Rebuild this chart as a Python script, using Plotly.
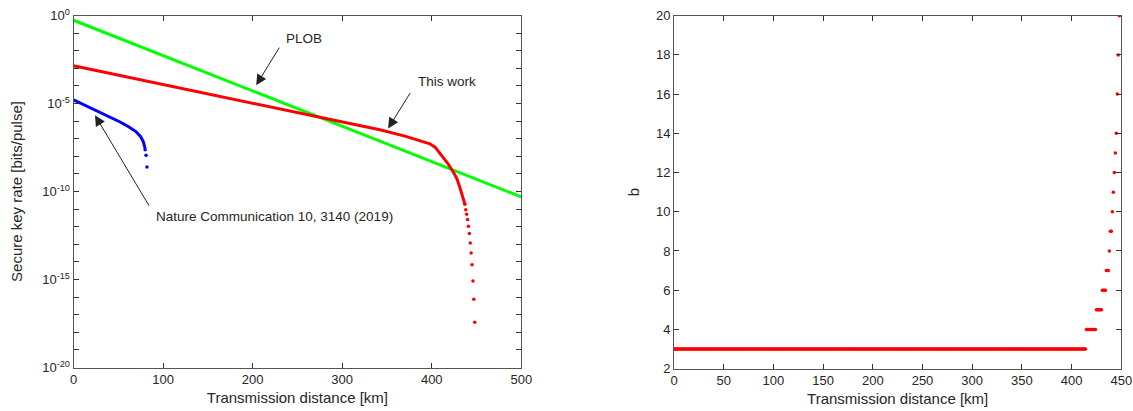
import plotly.graph_objects as go

# ---------------- data ----------------
# Left panel: secure key rate vs distance
plob_km = [0, 100, 200, 300, 400, 500]
plob_rate = [5.4e-1, 5.2e-3, 5.1e-5, 5.1e-7, 5.0e-9, 4.9e-11]

this_line_km = [0, 100, 200, 260, 300, 342, 370, 398, 404, 411, 418, 424, 428, 431, 434, 436, 437]
this_line_rate = [1.38e-3, 1.2e-4, 1.05e-5, 2.45e-6, 9.1e-7, 3.2e-7, 1.4e-7, 5.1e-8, 3.2e-8,
                  1.15e-8, 3.9e-9, 1.29e-9, 5.5e-10, 2.0e-10, 7.1e-11, 3.2e-11, 1.9e-11]

this_dot_km = [437, 438, 439, 440, 441, 442, 443, 444, 445, 446, 447, 448]
this_dot_rate = [1.9e-11, 9.3e-12, 5.1e-12, 2.6e-12, 1.07e-12, 4.1e-13, 1.2e-13,
                 3.2e-14, 6.8e-15, 8.3e-16, 7.6e-17, 3.7e-18]

nc_line_km = [0, 15, 33, 52, 62, 70, 75, 78, 80]
nc_line_rate = [1.62e-5, 7.0e-6, 2.7e-6, 8.9e-7, 4.6e-7, 2.45e-7, 1.3e-7, 6.6e-8, 2.75e-8]
nc_dot_km = [80, 81, 82]
nc_dot_rate = [2.34e-8, 1.15e-8, 2.5e-9]

# Right panel: b vs distance (runs of constant b on a 1 km grid)
b_levels = [3, 4, 5, 6, 7, 8, 9, 10, 11, 12, 13, 14, 16, 18, 20]
b_first_km = [0, 415, 425, 431, 435, 438, 439, 441, 442, 443, 444, 445, 446, 447, 448]
b_last_km = [414, 424, 430, 434, 437, 438, 440, 441, 442, 443, 444, 445, 446, 447, 448]

left_xticks = [0, 100, 200, 300, 400, 500]
left_yexp = list(range(-20, 1))
right_xticks = [0, 50, 100, 150, 200, 250, 300, 350, 400, 450]
right_yticks = [2, 4, 6, 8, 10, 12, 14, 16, 18, 20]

# expand b runs into per-km points
b_km, b_val = [], []
for lv, a, z in zip(b_levels, b_first_km, b_last_km):
    for k in range(a, z + 1):
        b_km.append(k)
        b_val.append(lv)

# ---------------- figure ----------------
FONT = "Liberation Sans, Arial, Helvetica, sans-serif"
TXT = "#262626"
AX = "#555555"

fig = go.Figure()

fig.add_trace(go.Scatter(x=plob_km, y=plob_rate, mode="lines",
                         line=dict(color="#00ff00", width=3), xaxis="x", yaxis="y",
                         showlegend=False))
fig.add_trace(go.Scatter(x=this_line_km, y=this_line_rate, mode="lines",
                         line=dict(color="#ff0000", width=3), xaxis="x", yaxis="y",
                         showlegend=False))
fig.add_trace(go.Scatter(x=this_dot_km, y=this_dot_rate, mode="markers",
                         marker=dict(color="#ff0000", size=3.5), xaxis="x", yaxis="y",
                         showlegend=False))
fig.add_trace(go.Scatter(x=nc_line_km, y=nc_line_rate, mode="lines",
                         line=dict(color="#0000ff", width=3), xaxis="x", yaxis="y",
                         showlegend=False))
fig.add_trace(go.Scatter(x=nc_dot_km, y=nc_dot_rate, mode="markers",
                         marker=dict(color="#0000ff", size=3.5), xaxis="x", yaxis="y",
                         showlegend=False))

fig.add_trace(go.Scatter(x=b_km, y=b_val, mode="markers",
                         marker=dict(color="#ff0000", size=3.5), xaxis="x2", yaxis="y2",
                         showlegend=False))

ytickvals = [10.0 ** e for e in left_yexp]
yticktext = [("10<sup>%d</sup>" % e) if e % 5 == 0 else "" for e in left_yexp]

common_axis = dict(showline=True, linecolor=AX, linewidth=1, mirror="ticks",
                   ticks="inside", ticklen=5, tickcolor="#333333", showgrid=False,
                   zeroline=False, automargin=False,
                   tickfont=dict(family=FONT, size=13, color=TXT))

fig.update_layout(
    width=1133, height=411,
    margin=dict(l=0, r=0, t=0, b=0),
    paper_bgcolor="white", plot_bgcolor="white",
    font=dict(family=FONT, color=TXT),
    xaxis=dict(domain=[73.5 / 1133, 521.3 / 1133], range=[0, 500],
               tickvals=left_xticks, anchor="y",
               title=dict(text="Transmission distance [km]", font=dict(size=15), standoff=6),
               **common_axis),
    yaxis=dict(domain=[1 - 367.5 / 411, 1 - 15.5 / 411], type="log", range=[-20, 0],
               tickvals=ytickvals, ticktext=yticktext, anchor="x",
               title=dict(text="Secure key rate [bits/pulse]", font=dict(size=15), standoff=16),
               **common_axis),
    xaxis2=dict(domain=[674 / 1133, 1121.3 / 1133], range=[0, 450],
                tickvals=right_xticks, anchor="y2",
                title=dict(text="Transmission distance [km]", font=dict(size=15), standoff=6),
                **common_axis),
    yaxis2=dict(domain=[1 - 368.6 / 411, 1 - 15.7 / 411], range=[2, 20],
                tickvals=right_yticks, anchor="x2",
                title=dict(text="b", font=dict(size=15), standoff=12),
                **common_axis),
)

# arrows (tip in data coords; tail offset in pixels)
arrows = [
    (204, -3.96, 24, -39),
    (351.3, -6.42, 23, -37),
    (24, -5.67, 55, 92),
]
for x, y, ax, ay in arrows:
    fig.add_annotation(x=x, y=y, xref="x", yref="y", ax=ax, ay=ay, text="",
                       showarrow=True, arrowhead=2, arrowsize=2.1, arrowwidth=1,
                       arrowcolor="#222222", standoff=0)

labels = [
    ("PLOB", 257.5, -1.31),
    ("This work", 417.5, -3.77),
    ("Nature Communication 10, 3140 (2019)", 224, -11.4),
]
for t, x, y in labels:
    fig.add_annotation(x=x, y=y, xref="x", yref="y", text=t, showarrow=False,
                       font=dict(family=FONT, size=13.5, color=TXT))

fig.write_html("out.html")
